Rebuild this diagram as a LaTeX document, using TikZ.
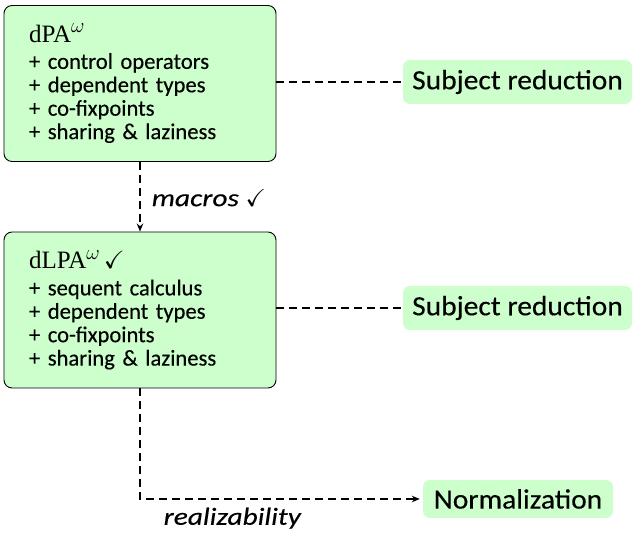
\documentclass[tikz,border=0pt]{standalone}
\usepackage{amssymb}
\usepackage{fontspec}
\setsansfont[FakeBold=0.3]{Carlito}
\newfontfamily\resfont[FakeStretch=1.06,FakeBold=0.3]{Carlito}
\newfontfamily\lblfont[FakeStretch=1.2,FakeBold=0.3]{Carlito}
\newfontfamily\ttlserif{Liberation Serif}
\usetikzlibrary{arrows.meta}
\definecolor{boxgreen}{HTML}{CCFFCC}
\tikzset{
  bigbox/.style={draw=black, line width=0.9pt, fill=boxgreen, rounded corners=8pt,
    minimum width=272pt, minimum height=156pt, text width=222pt, align=left,
    inner sep=0pt, font=\sffamily\fontsize{22.6}{23.4}\selectfont},
  resbox/.style={fill=boxgreen, rounded corners=7pt, inner sep=0pt,
    font=\resfont\fontsize{27.8}{30}\selectfont},
  conn/.style={line width=1.5pt, dash pattern=on 8pt off 5pt},
  lbl/.style={font=\lblfont\itshape\fontsize{24.5}{26}\selectfont, inner sep=0pt},
  tip/.style={-{Stealth[length=8pt,width=6.5pt]}}
}
\newcommand{\ttlfont}{\ttlserif\fontsize{25}{28}\selectfont}
\newcommand{\omsup}{\raisebox{9.5pt}{\fontsize{21}{21}\selectfont$\omega$}}
\begin{document}
\begin{tikzpicture}[x=1pt,y=1pt]
\useasboundingbox (0,0) rectangle (635,538);
\node[bigbox] (pa) at (140,454.5) {{\ttlfont dPA\omsup}\\[3pt]
+ control operators\\ + dependent types\\ + co-fixpoints\\ + sharing \& laziness};
\node[bigbox] (lpa) at (140,228) {{\ttlfont dLPA\omsup\,$\checkmark$}\\[3pt]
+ sequent calculus\\ + dependent types\\ + co-fixpoints\\ + sharing \& laziness};
\node[resbox, minimum width=229pt, minimum height=44pt] (sr1) at (517.5,456) {Subject reduction};
\node[resbox, minimum width=229pt, minimum height=44pt] (sr2) at (517.5,230) {Subject reduction};
\node[resbox, minimum width=190pt, minimum height=38pt] (nm) at (518,39) {Normalization};
\draw[conn] (pa.east |- sr1.west) -- (sr1.west);
\draw[conn] (lpa.east |- sr2.west) -- (sr2.west);
\draw[conn, tip] (pa.south) -- node[lbl, right=11pt, yshift=-1pt] {macros $\checkmark$} (lpa.north);
\draw[conn, tip] (lpa.south) |- node[lbl, pos=0.665, below=8pt] {realizability} ([xshift=-3pt]nm.west);
\end{tikzpicture}
\end{document}
